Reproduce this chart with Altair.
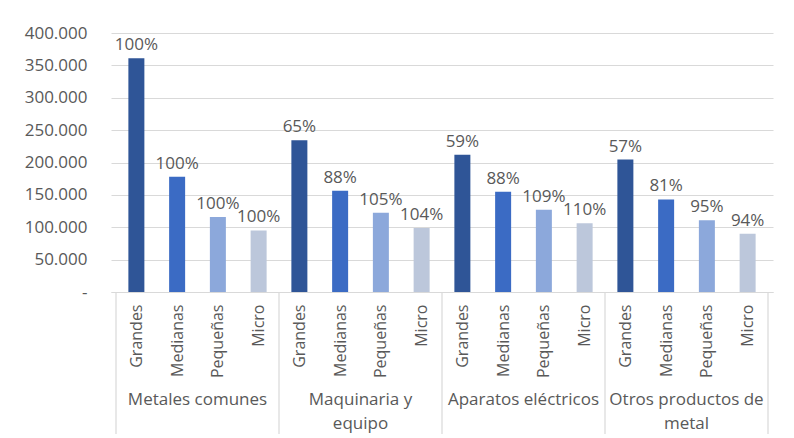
import altair as alt
import pandas as pd

groups = ["Metales comunes", "Maquinaria y\nequipo", "Aparatos eléctricos", "Otros productos de\nmetal"]
sizes = ["Grandes", "Medianas", "Pequeñas", "Micro"]
metales = [361000, 178000, 116000, 95000]
maquinaria = [234500, 156500, 122500, 99000]
aparatos = [212000, 155000, 127000, 106000]
otros = [204500, 143000, 111000, 90000]
pct_metales = ["100%", "100%", "100%", "100%"]
pct_maquinaria = ["65%", "88%", "105%", "104%"]
pct_aparatos = ["59%", "88%", "109%", "110%"]
pct_otros = ["57%", "81%", "95%", "94%"]
colors = ["#2F5597", "#3B6BC4", "#8CA8DB", "#BCC7DB"]
y_ticks = [0, 50000, 100000, 150000, 200000, 250000, 300000, 350000, 400000]

series = [metales, maquinaria, aparatos, otros]
pcts = [pct_metales, pct_maquinaria, pct_aparatos, pct_otros]
rows = []
for gi, g in enumerate(groups):
    for si, s in enumerate(sizes):
        rows.append({"grupo": g, "tam": s, "pos": gi * 4 + si + 0.5,
                     "valor": series[gi][si], "pct": pcts[gi][si]})
df = pd.DataFrame(rows)
grp_df = pd.DataFrame({"grupo": groups, "pos": [gi * 4 + 2 for gi in range(len(groups))]})
sep_df = pd.DataFrame({"pos": [gi * 4 for gi in range(len(groups) + 1)]})

W, H = 662, 259
FONT = "Open Sans"
GREY = "#595959"
LINE = "#D9D9D9"

x_scale = alt.Scale(domain=[0, 16], nice=False, zero=False)
y_scale = alt.Scale(domain=[0, 400000], nice=False)

label_expr = "['Grandes','Medianas','Pequeñas','Micro'][floor(datum.value) % 4]"

x_axis = alt.Axis(values=[i + 0.5 for i in range(16)], labelExpr=label_expr,
                  labelAngle=-90, labelAlign="right", labelBaseline="middle",
                  labelPadding=12, ticks=False, grid=False,
                  domainColor=LINE, domainWidth=1.2,
                  labelFontSize=16, labelColor=GREY, labelFont=FONT,
                  labelOverlap=False, labelFlush=False, title=None)
y_axis = alt.Axis(values=y_ticks, tickCount=9,
                  labelExpr="datum.value == 0 ? '-\u2007' : replace(format(datum.value, ','), ',', '.')",
                  domain=False, ticks=False, gridColor=LINE, gridWidth=1.2,
                  labelPadding=24, minExtent=100, maxExtent=100,
                  labelOverlap=False, labelFlush=False,
                  labelFontSize=17, labelColor=GREY, labelFont=FONT, title=None)

bars = alt.Chart(df).mark_bar(size=16).encode(
    x=alt.X("pos:Q", scale=x_scale, axis=x_axis),
    y=alt.Y("valor:Q", scale=y_scale, axis=y_axis),
    color=alt.Color("tam:N", scale=alt.Scale(domain=sizes, range=colors), legend=None),
)

pct_text = alt.Chart(df).mark_text(baseline="alphabetic", dy=-8, fontSize=17,
                                   font=FONT, color=GREY).encode(
    x=alt.X("pos:Q", scale=x_scale, axis=x_axis),
    y=alt.Y("valor:Q", scale=y_scale, axis=y_axis),
    text="pct:N",
)

seps = alt.Chart(sep_df).mark_rule(color=LINE, strokeWidth=1.2).encode(
    x=alt.X("pos:Q", scale=x_scale, axis=x_axis),
    y=alt.value(H),
    y2=alt.value(H + 142),
)

grp_text = alt.Chart(grp_df).mark_text(baseline="alphabetic", lineBreak="\n", lineHeight=24,
                                       fontSize=17, font=FONT, color=GREY).encode(
    x=alt.X("pos:Q", scale=x_scale, axis=x_axis),
    y=alt.value(H + 113),
    text="grupo:N",
)

chart = alt.layer(seps, bars, pct_text, grp_text).properties(
    width=W, height=H,
    padding={"left": 3, "top": 16, "right": 5, "bottom": 4},
    background="white",
).configure_view(stroke=None)

chart.save("out.html", embed_options={"renderer": "svg", "actions": False})
